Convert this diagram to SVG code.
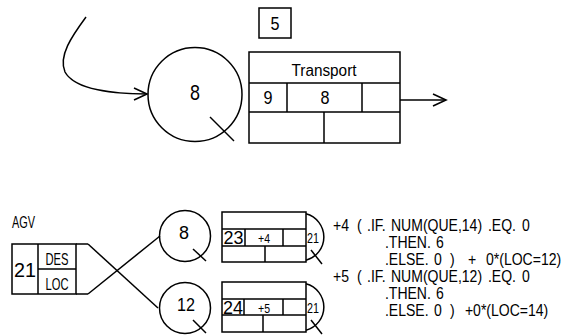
<svg xmlns="http://www.w3.org/2000/svg" width="567" height="336" viewBox="0 0 567 336">
<style>
.s{fill:none;stroke:#000;stroke-width:1.5}
.t{font-family:"Liberation Sans",Arial,sans-serif;fill:#000;text-anchor:middle}
.l{font-family:"Liberation Sans",Arial,sans-serif;fill:#000;font-size:16.5px}
</style>
<defs>
<marker id="v" markerUnits="userSpaceOnUse" markerWidth="16" markerHeight="14" refX="14" refY="7" orient="auto">
<path d="M1,1 L14,7 L1,13" fill="none" stroke="#000" stroke-width="1.6"/>
</marker>
</defs>
<rect width="567" height="336" fill="#fff"/>

<g id="connectors">
<path class="s" d="M86,17 C72,36 58,56 65,72 C75,90 115,94 147,94" marker-end="url(#v)"/>
<path class="s" d="M400,100 L446,100" marker-end="url(#v)"/>
<path class="s" d="M88,244 L158,308"/>
<path class="s" d="M88,294 L160,236"/>
</g>

<g id="label5">
<rect class="s" x="259" y="8" width="32" height="30"/>
<text class="t" x="275" y="30" font-size="18" textLength="9" lengthAdjust="spacingAndGlyphs">5</text>
</g>

<g id="place8">
<circle class="s" cx="195" cy="94.5" r="47"/>
<path class="s" d="M210,117 L234,141"/>
<text class="t" x="195" y="100" font-size="22" textLength="10" lengthAdjust="spacingAndGlyphs">8</text>
</g>

<g id="transport">
<rect class="s" x="249" y="52" width="151" height="91"/>
<path class="s" d="M249,83 H400 M249,112 H400 M287,83 V112 M362,83 V112 M324,112 V143"/>
<text class="t" x="324" y="76" font-size="16" textLength="65" lengthAdjust="spacingAndGlyphs">Transport</text>
<text class="t" x="268" y="104" font-size="18" textLength="9" lengthAdjust="spacingAndGlyphs">9</text>
<text class="t" x="325" y="104" font-size="18" textLength="9" lengthAdjust="spacingAndGlyphs">8</text>
</g>

<g id="agv">
<text class="l" x="12" y="228" font-size="13.5" textLength="23" lengthAdjust="spacingAndGlyphs">AGV</text>
<rect class="s" x="12" y="244" width="64" height="50"/>
<path class="s" d="M38,244 V294 M38,269 H76 M76,244 H88 M76,294 H88"/>
<text class="t" x="25" y="277" font-size="20" textLength="22" lengthAdjust="spacingAndGlyphs">21</text>
<text class="t" x="57" y="265" font-size="17" textLength="23" lengthAdjust="spacingAndGlyphs">DES</text>
<text class="t" x="57" y="290" font-size="17" textLength="23" lengthAdjust="spacingAndGlyphs">LOC</text>
</g>

<g id="place8b">
<circle class="s" cx="185" cy="236" r="25.5"/>
<path class="s" d="M193,249 L206,261"/>
<text class="t" x="184" y="239" font-size="18" textLength="10" lengthAdjust="spacingAndGlyphs">8</text>
</g>

<g id="place12">
<circle class="s" cx="185" cy="308" r="25.5"/>
<path class="s" d="M193,320 L206,333"/>
<text class="t" x="186" y="311" font-size="18" textLength="18" lengthAdjust="spacingAndGlyphs">12</text>
</g>

<g id="trans4">
<rect class="s" x="222" y="212" width="84" height="50"/>
<path class="s" d="M222,229 H306 M222,246 H306 M245,229 V246 M283,229 V246 M265,246 V262"/>
<path class="s" d="M306,213.8 A24,24 0 0 1 306,260.2"/>
<path class="s" d="M311,250 L322,264"/>
<text class="t" x="233.5" y="244" font-size="18" textLength="20" lengthAdjust="spacingAndGlyphs">23</text>
<text class="t" x="264" y="243" font-size="12" textLength="12" lengthAdjust="spacingAndGlyphs">+4</text>
<text class="t" x="313" y="243" font-size="14" textLength="12" lengthAdjust="spacingAndGlyphs">21</text>
</g>

<g id="trans5">
<rect class="s" x="222" y="282" width="84" height="50"/>
<path class="s" d="M222,299 H306 M222,315 H306 M244,299 V315 M283,299 V315 M263,315 V332"/>
<path class="s" d="M306,283.8 A24,24 0 0 1 306,330.2"/>
<path class="s" d="M311,320 L322,334"/>
<text class="t" x="233" y="314" font-size="18" textLength="20" lengthAdjust="spacingAndGlyphs">24</text>
<text class="t" x="264" y="313" font-size="12" textLength="12" lengthAdjust="spacingAndGlyphs">+5</text>
<text class="t" x="313" y="313" font-size="14" textLength="12" lengthAdjust="spacingAndGlyphs">21</text>
</g>

<g id="formula4" transform="scale(0.85,1)">
<text class="l" y="231"><tspan x="391.8">+4</tspan><tspan x="420">(</tspan><tspan x="431.8">.IF.</tspan><tspan x="460">NUM(QUE,14)</tspan><tspan x="574.1">.EQ.</tspan><tspan x="614.1">0</tspan></text>
<text class="l" y="248"><tspan x="452.9">.THEN.</tspan><tspan x="512.9">6</tspan></text>
<text class="l" y="265"><tspan x="452.9">.ELSE.</tspan><tspan x="510.6">0</tspan><tspan x="529.4">)</tspan><tspan x="550.6">+</tspan><tspan x="571.8">0*(LOC=12)</tspan></text>
</g>

<g id="formula5" transform="scale(0.85,1)">
<text class="l" y="282"><tspan x="391.8">+5</tspan><tspan x="420">(</tspan><tspan x="431.8">.IF.</tspan><tspan x="460">NUM(QUE,12)</tspan><tspan x="574.1">.EQ.</tspan><tspan x="614.1">0</tspan></text>
<text class="l" y="299"><tspan x="452.9">.THEN.</tspan><tspan x="512.9">6</tspan></text>
<text class="l" y="316"><tspan x="452.9">.ELSE.</tspan><tspan x="510.6">0</tspan><tspan x="529.4">)</tspan><tspan x="547">+0*(LOC=14)</tspan></text>
</g>
</svg>
